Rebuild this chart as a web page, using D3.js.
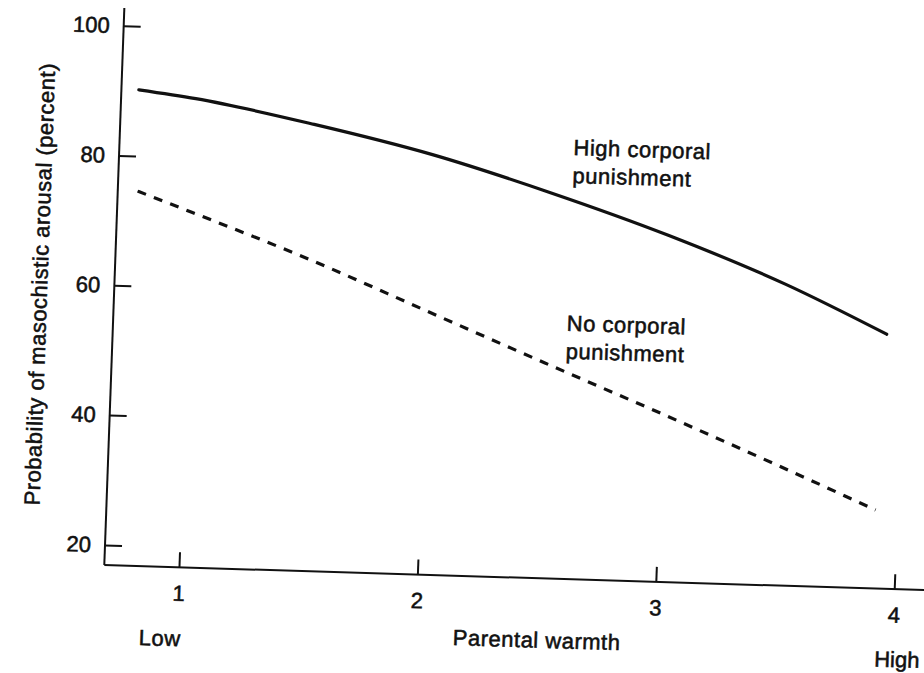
<!DOCTYPE html>
<html>
<head>
<meta charset="utf-8">
<script src="https://cdn.jsdelivr.net/npm/d3@7/dist/d3.min.js"></script>
<style>
  html, body { margin: 0; padding: 0; background: #ffffff; }
  svg { display: block; }
  text { font-family: "Liberation Sans", Arial, Helvetica, sans-serif; fill: #111; stroke: #111; stroke-width: 0.55px; }
</style>
</head>
<body>
<svg id="chart" width="924" height="673"></svg>
<script>
// ---- data ----
const xTicks = [1, 2, 3, 4];
const yTicks = [20, 40, 60, 80, 100];
const warmthHigh = [0.76, 1.0, 1.5, 2.0, 2.5, 3.0, 3.5, 3.93];
const highCorporal = [90.2, 89.1, 85.7, 81.6, 76.3, 70.3, 63.3, 56.1];
const warmthNo = [0.77, 1.0, 1.5, 2.0, 2.5, 3.0, 3.5, 3.91];
const noCorporal = [74.6, 71.6, 64.9, 57.5, 50.1, 42.8, 35.3, 29.0];
const xAxisTitle = "Parental warmth";
const yAxisTitle = "Probability of masochistic arousal (percent)";
const xLowLabel = "Low";
const xHighLabel = "High";
const seriesLabels = [["High corporal", "punishment"], ["No corporal", "punishment"]];

// ---- layout ----
const svg = d3.select("#chart");
// the scanned page is slightly tilted; the whole chart lives in a tilted frame
const a = 1.75 * Math.PI / 180, b = 2.06 * Math.PI / 180;
const g = svg.append("g")
  .attr("transform", `matrix(${Math.cos(a)},${Math.sin(a)},${-Math.sin(b)},${Math.cos(b)},104.3,565)`);

const x = d3.scaleLinear().domain([1, 4]).range([74.7, 790.3]);
const y = d3.scaleLinear().domain([20, 100]).range([-20.1, -539.7]);

// axis lines
g.append("line").attr("x1", 0).attr("y1", 0).attr("x2", 0).attr("y2", -557.4)
  .attr("stroke", "#111").attr("stroke-width", 2);
g.append("line").attr("x1", 0).attr("y1", 0).attr("x2", 850).attr("y2", 0)
  .attr("stroke", "#111").attr("stroke-width", 2);

// y axis (ticks pointing inward)
const yAxis = g.append("g")
  .call(d3.axisLeft(y).tickValues(yTicks).tickSizeInner(-17).tickSizeOuter(0).tickPadding(14));
yAxis.select(".domain").remove();
yAxis.selectAll(".tick line").attr("stroke", "#111").attr("stroke-width", 2);
yAxis.selectAll(".tick text").attr("font-size", 22).attr("fill", "#111")
  .style("font-family", "'Liberation Sans', Arial, sans-serif");

// x axis (ticks pointing inward)
const xAxis = g.append("g")
  .call(d3.axisBottom(x).tickValues(xTicks).tickFormat(d3.format("d")).tickSizeInner(-15).tickSizeOuter(0).tickPadding(18));
xAxis.select(".domain").remove();
xAxis.selectAll(".tick line").attr("stroke", "#111").attr("stroke-width", 2);
xAxis.selectAll(".tick text").attr("font-size", 22).attr("fill", "#111")
  .style("font-family", "'Liberation Sans', Arial, sans-serif");

// lines
const line = d3.line().x(d => x(d[0])).y(d => y(d[1])).curve(d3.curveMonotoneX);
g.append("path")
  .datum(warmthHigh.map((w, i) => [w, highCorporal[i]]))
  .attr("d", line).attr("fill", "none").attr("stroke", "#111").attr("stroke-width", 3.2)
  .attr("stroke-linecap", "round");
g.append("path")
  .datum(warmthNo.map((w, i) => [w, noCorporal[i]]))
  .attr("d", line).attr("fill", "none").attr("stroke", "#111").attr("stroke-width", 3.2)
  .attr("stroke-dasharray", "9,8.5");

// series labels
const labelPos = [[454, -424.1], [453.5, -248.3]];
seriesLabels.forEach((lines, i) => {
  lines.forEach((t, j) => {
    g.append("text").attr("x", labelPos[i][0]).attr("y", labelPos[i][1] + j * 28)
      .attr("font-size", 22).attr("letter-spacing", "0.5px").text(t);
  });
});

// axis titles
g.append("text").attr("x", 434.8).attr("y", 61.5).attr("dy", "0.36em")
  .attr("text-anchor", "middle").attr("font-size", 22).attr("letter-spacing", "0.5px").text(xAxisTitle);
g.append("text").attr("x", 58).attr("y", 71.1).attr("dy", "0.36em")
  .attr("text-anchor", "middle").attr("font-size", 22).attr("letter-spacing", "0.5px").text(xLowLabel);
g.append("text").attr("x", 818).attr("y", 70).attr("dy", "0.36em")
  .attr("text-anchor", "end").attr("font-size", 22).text(xHighLabel);
g.append("text").attr("transform", "translate(-67,-278.7) rotate(-90)")
  .attr("text-anchor", "middle").attr("font-size", 22).attr("letter-spacing", "0.5px").text(yAxisTitle);
</script>
</body>
</html>
